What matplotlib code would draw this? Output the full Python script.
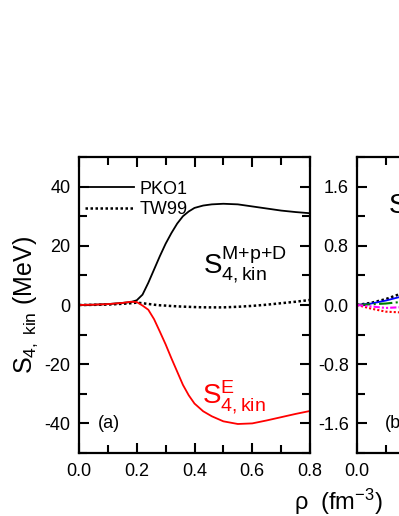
import numpy as np
import matplotlib
matplotlib.use('Agg')
import matplotlib.pyplot as plt
from matplotlib.ticker import MultipleLocator

plt.rcParams['font.family'] = ['Liberation Sans', 'DejaVu Sans']
plt.rcParams['mathtext.fontset'] = 'custom'
plt.rcParams['mathtext.rm'] = 'Liberation Sans'
plt.rcParams['mathtext.it'] = 'Liberation Sans'
plt.rcParams['mathtext.bf'] = 'Liberation Sans:bold'
plt.rcParams['axes.unicode_minus'] = False

# panel (a): kinetic contributions, MeV
rho = [0.0, 0.05, 0.1, 0.15, 0.18, 0.2, 0.22, 0.24, 0.26, 0.28, 0.3, 0.32, 0.34,
       0.36, 0.38, 0.4, 0.43, 0.46, 0.5, 0.55, 0.6, 0.65, 0.7, 0.75, 0.8]
pko1_mpd = [0.0, 0.1, 0.3, 0.7, 1.0, 1.6, 3.5, 7.5, 12.0, 16.5, 20.7, 24.3, 27.5,
            30.0, 31.6, 32.8, 33.6, 34.0, 34.2, 34.0, 33.3, 32.6, 31.9, 31.4, 31.0]
pko1_e = [0.0, 0.1, 0.3, 0.7, 1.1, 1.0, -0.2, -1.6, -4.8, -9.0, -13.3, -18.0, -22.5,
          -27.0, -30.5, -33.3, -35.9, -37.6, -39.3, -40.2, -40.0, -39.0, -37.9, -36.8, -35.8]
tw99 = [0.0, 0.05, 0.15, 0.4, 0.6, 0.8, 0.6, 0.35, 0.1, -0.1, -0.2, -0.35, -0.45,
        -0.55, -0.62, -0.7, -0.78, -0.8, -0.8, -0.6, -0.3, 0.1, 0.6, 1.1, 1.7]

# panel (b): only the low-density part is visible
rho_b = [0.0, 0.05, 0.1, 0.15, 0.2]
b_black = [0.0, 0.03, 0.08, 0.15, 0.22]
b_blue = [0.0, 0.02, 0.06, 0.11, 0.16]
b_green = [0.0, 0.01, 0.02, 0.04, 0.05]
b_red = [0.0, -0.05, -0.09, -0.1, -0.1]
b_magenta = [0.0, -0.02, -0.04, -0.03, -0.02]

W, H = 399, 516
fig = plt.figure(figsize=(W / 100, H / 100), dpi=100)
ax = fig.add_axes([79 / W, 1 - 453 / H, 231 / W, 296 / H])
axb = fig.add_axes([357 / W, 1 - 453 / H, 231 / W, 296 / H])


def style(a, ymaj, ymin):
    a.set_xlim(0, 0.8)
    a.xaxis.set_major_locator(MultipleLocator(0.2))
    a.xaxis.set_minor_locator(MultipleLocator(0.1))
    a.yaxis.set_major_locator(MultipleLocator(ymaj))
    a.yaxis.set_minor_locator(MultipleLocator(ymin))
    a.tick_params(which='both', direction='in', top=True, right=True, width=1.5, labelsize=13)
    a.tick_params(which='major', length=7)
    a.tick_params(which='minor', length=6)
    a.tick_params(axis='x', pad=7)
    a.tick_params(axis='y', pad=6)
    for s in a.spines.values():
        s.set_linewidth(1.6)


ax.plot(rho, pko1_mpd, color='black', lw=1.3, label='PKO1')
ax.plot(rho, tw99, color='black', lw=1.8, ls=(0, (1, 1)), label='TW99')
ax.plot(rho, pko1_e, color='red', lw=1.3)
ax.set_ylim(-50, 50)
style(ax, 20, 10)
ax.xaxis.set_major_formatter(lambda v, p: f'{v:.1f}')
ax.set_ylabel(r'S$_{4,\ \mathrm{kin}}$ (MeV)', fontsize=18, labelpad=3)
ax.legend(loc='upper left', frameon=False, fontsize=13, handlelength=2.7,
          handletextpad=0.3, borderaxespad=0.0, bbox_to_anchor=(-0.005, 0.945),
          labelspacing=0.2)
ax.text(0.43, 10.6, r'S$_{4,\mathrm{kin}}^{\mathrm{M{+}p{+}D}}$', fontsize=20, ha='left', va='baseline')
ax.text(0.425, -33.5, r'S$_{4,\mathrm{kin}}^{\mathrm{E}}$', fontsize=20, ha='left', va='baseline', color='red')
ax.text(0.066, -40, '(a)', fontsize=13, ha='left', va='center')

axb.plot(rho_b, b_black, color='black', lw=1.8, ls=(0, (1, 1)))
axb.plot(rho_b, b_blue, color='blue', lw=1.3)
axb.plot(rho_b, b_green, color='#008000', lw=1.5, ls='-.')
axb.plot(rho_b, b_red, color='red', lw=1.5, ls=(0, (1, 1)))
axb.plot(rho_b, b_magenta, color='magenta', lw=1.5, ls=(0, (3, 1, 1, 1, 1, 1)))
axb.set_ylim(-2, 2)
style(axb, 0.8, 0.4)
axb.xaxis.set_major_formatter(lambda v, p: f'{v:.1f}')
axb.yaxis.set_major_formatter(lambda v, p: f'{v:.1f}')
axb.text(0.107, 1.24, r'S$_{4,\mathrm{kin}}$', fontsize=20, ha='left', va='baseline')
axb.text(0.097, -1.6, '(b)', fontsize=13, ha='left', va='center')

fig.text(338 / W, 1 - 502 / H, r'$\rho$  (fm$^{-3}$)', fontsize=17, ha='center', va='center')

fig.savefig('out.png', dpi=100)
